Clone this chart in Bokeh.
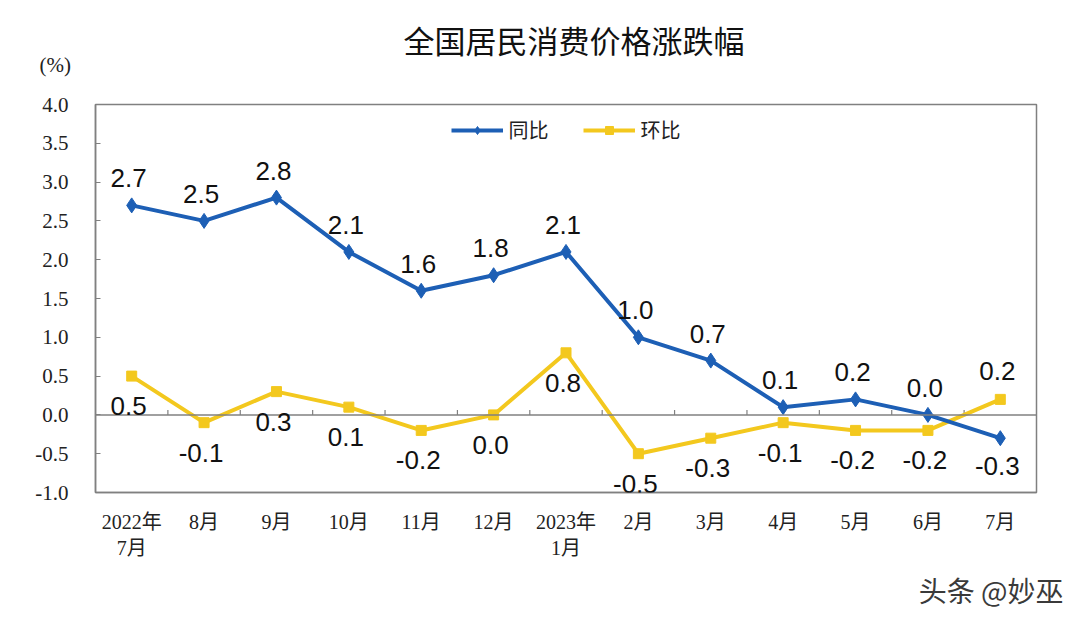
from bokeh.plotting import figure
from bokeh.models import (ColumnDataSource, Range1d, FixedTicker, LabelSet, Title,
                          Legend, LegendItem, Span, NumeralTickFormatter)
from bokeh.core.properties import value
from bokeh.embed import file_html
from bokeh.resources import INLINE

# ---- data ----
months = ["2022年\n7月", "8月", "9月", "10月", "11月", "12月", "2023年\n1月",
          "2月", "3月", "4月", "5月", "6月", "7月"]
yoy = [2.7, 2.5, 2.8, 2.1, 1.6, 1.8, 2.1, 1.0, 0.7, 0.1, 0.2, 0.0, -0.3]   # 同比
mom = [0.5, -0.1, 0.3, 0.1, -0.2, 0.0, 0.8, -0.5, -0.3, -0.1, -0.2, -0.2, 0.2]  # 环比
yoy_side = ["up"] * 12 + ["down"]
mom_side = ["down"] * 12 + ["up"]
y_ticks = [-1.0, -0.5, 0.0, 0.5, 1.0, 1.5, 2.0, 2.5, 3.0, 3.5, 4.0]

title_text = "全国居民消费价格涨跌幅"
unit_text = "(%)"
watermark = "头条 @妙巫"

BLUE = "#1d5fb5"
YELLOW = "#f3c81e"
GRAY = "#808080"

W, H = 1078, 620
idx = list(range(len(months)))

p = figure(width=W, height=H, output_backend="svg", toolbar_location=None,
           x_range=Range1d(-0.5, len(months) - 0.5), y_range=Range1d(y_ticks[0], y_ticks[-1]),
           min_border_left=95, min_border_right=W - 1036, min_border_top=104,
           min_border_bottom=H - 492)
p.background_fill_color = "white"
p.border_fill_color = "white"
p.outline_line_color = GRAY
p.outline_line_width = 1.5
p.xgrid.visible = False
p.ygrid.visible = False

# titles
p.title.text = title_text
p.title.align = "left"
p.title.offset = 308
p.title.standoff = -77
p.title.text_font = "Noto Sans CJK SC"
p.title.text_font_size = "31px"
p.title.text_font_style = "normal"
p.title.text_color = "#111111"
p.add_layout(Title(text=unit_text, align="left", offset=-56, standoff=55,
                   text_font="Liberation Serif", text_font_size="21px",
                   text_font_style="normal", text_color="#222222"), "above")
p.add_layout(Title(text=watermark, align="right", offset=-27, standoff=13,
                   text_font="Noto Sans CJK SC", text_font_size="28px",
                   text_font_style="normal", text_color="#3a3a3a"), "below")

# axes
p.xaxis.ticker = FixedTicker(ticks=idx)
p.xaxis.major_label_overrides = {i: m for i, m in enumerate(months)}
p.xaxis.major_tick_line_color = None
p.xaxis.minor_tick_line_color = None
p.xaxis.axis_line_color = GRAY
p.xaxis.axis_line_width = 1.5
p.xaxis.major_label_text_font = "Liberation Serif, Noto Sans CJK SC"
p.xaxis.major_label_text_font_size = "20px"
p.xaxis.major_label_text_color = "#222222"
p.xaxis.major_label_standoff = 12

p.yaxis.ticker = FixedTicker(ticks=y_ticks)
p.yaxis.formatter = NumeralTickFormatter(format="0.0")
p.yaxis.major_tick_in = 5
p.yaxis.major_tick_out = 0
p.yaxis.major_tick_line_color = GRAY
p.yaxis.minor_tick_line_color = None
p.yaxis.axis_line_color = GRAY
p.yaxis.axis_line_width = 1.5
p.yaxis.major_label_text_font = "Liberation Serif"
p.yaxis.major_label_text_font_size = "21px"
p.yaxis.major_label_text_color = "#222222"
p.yaxis.major_label_standoff = 27

# zero line with small ticks at category boundaries
p.add_layout(Span(location=0, dimension="width", line_color=GRAY, line_width=1.5))
bounds = [i + 0.5 for i in idx[:-1]]
tick_h = 5 / (388 / (y_ticks[-1] - y_ticks[0]))
p.segment(x0=bounds, y0=[0] * len(bounds), x1=bounds, y1=[tick_h] * len(bounds),
          line_color=GRAY, line_width=1.2)

src = ColumnDataSource(dict(
    x=idx, yoy=yoy, mom=mom,
    yoy_txt=[f"{v:.1f}" for v in yoy], mom_txt=[f"{v:.1f}" for v in mom],
    yoy_off=[27 if s == "up" else -28 for s in yoy_side],
    mom_off=[28 if s == "up" else -30 for s in mom_side],
))

l_mom = p.line("x", "mom", source=src, line_color=YELLOW, line_width=4)
s_mom = p.scatter("x", "mom", source=src, marker="square", size=10,
                  fill_color=YELLOW, line_color=YELLOW)
l_yoy = p.line("x", "yoy", source=src, line_color=BLUE, line_width=4)
s_yoy = p.scatter("x", "yoy", source=src, marker="diamond", size=15,
                  fill_color=BLUE, line_color=BLUE)

for col, off in (("yoy", "yoy_off"), ("mom", "mom_off")):
    p.add_layout(LabelSet(x="x", y=col, text=col + "_txt", source=src,
                          y_offset=off, x_offset=-3,
                          text_align="center", text_baseline="middle",
                          text_font=value("Liberation Sans"), text_font_size=value("26px"),
                          text_color="#111111"))

legend = Legend(items=[LegendItem(label="同比", renderers=[l_yoy, s_yoy]),
                       LegendItem(label="环比", renderers=[l_mom, s_mom])],
                orientation="horizontal", location="top_center",
                label_text_font="Noto Sans CJK SC", label_text_font_size="20px",
                label_text_color="#222222",
                glyph_width=52, glyph_height=20, spacing=34,
                border_line_color=None, background_fill_alpha=0,
                margin=11, padding=4, label_standoff=6)
p.add_layout(legend)

open("out.html", "w").write(file_html(p, INLINE))
